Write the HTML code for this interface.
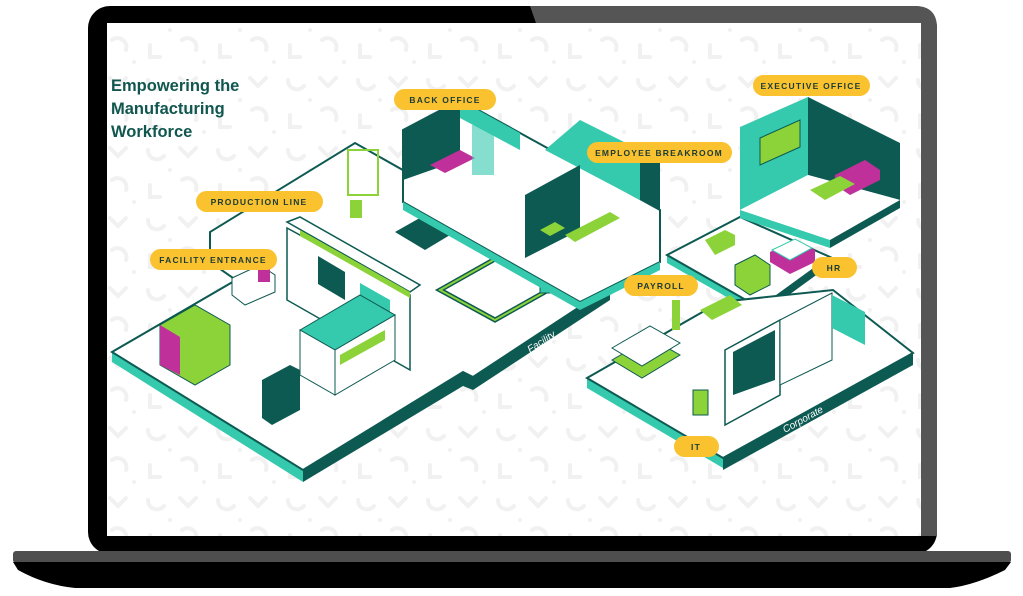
<!DOCTYPE html>
<html><head><meta charset="utf-8"><style>
html,body{margin:0;padding:0;background:#fff;width:1023px;height:596px;overflow:hidden}
svg{display:block}
.p{font-family:"Liberation Sans",sans-serif;font-weight:bold;font-size:8.5px;letter-spacing:1.2px;fill:#1d3b36}
</style></head><body>
<svg width="1023" height="596" viewBox="0 0 1023 596" xmlns="http://www.w3.org/2000/svg">
<defs>
<pattern id="bg" width="70" height="70" patternUnits="userSpaceOnUse">
<g fill="none" stroke="#f1f1f1" stroke-width="4" stroke-linecap="round">
<path d="M8 10 a9 9 0 0 0 16 6"/><path d="M40 8 l8 8 l8 -8"/><path d="M10 45 l0 12 l10 0"/><path d="M42 40 a9 9 0 0 1 14 10"/>
</g><circle cx="30" cy="30" r="2" fill="#f1f1f1"/><circle cx="64" cy="62" r="2" fill="#f1f1f1"/>
</pattern>
</defs>
<!-- laptop -->
<rect x="88" y="6" width="849" height="548" rx="22" fill="#000"/>
<path d="M530 6 L915 6 Q937 6 937 28 L937 536 L921 536 L921 23 L536 23 Z" fill="#555"/>
<rect x="107" y="23" width="814" height="513" fill="#fff"/>
<rect x="107" y="23" width="814" height="513" fill="url(#bg)"/>
<rect x="13" y="551" width="998" height="12" rx="3" fill="#4e4e4e"/>
<path d="M13 562 L1011 562 L1005 570 Q975 585 950 588 L75 588 Q45 585 18 570 Z" fill="#000"/>
<!-- title -->
<g font-family="Liberation Sans,sans-serif" font-weight="bold" font-size="16.5" fill="#11574f">
<text x="111" y="91">Empowering the</text><text x="111" y="114">Manufacturing</text><text x="111" y="137">Workforce</text>
</g>
<!-- facility platform -->
<path d="M303 470 L303 482 L463 386 L473 390 L610 300 L610 287 L473 377 L463 372 Z" fill="#0d5a52"/>
<path d="M112 352 L112 362 L303 482 L303 470 Z" fill="#35c9ad"/>
<path d="M210 232 L210 240 L236 254 L236 246 Z" fill="#35c9ad"/>
<path d="M112 352 L236 280 L210 262 L210 232 L355 143 L610 287 L473 377 L463 372 L303 470 Z" fill="#fff" stroke="#0d5a52" stroke-width="2"/>
<!-- building on facility -->
<path d="M287 228 L287 300 L410 370 L410 295 Z" fill="#fff" stroke="#0d5a52" stroke-width="1.5"/>
<path d="M287 222 L300 217 L420 285 L410 292 Z" fill="#fff" stroke="#0d5a52" stroke-width="1.5"/>
<path d="M300 230 L410 292 L410 298 L300 236 Z" fill="#8cd33a"/>
<path d="M318 256 L345 272 L345 300 L318 284 Z" fill="#0d5a52"/>
<path d="M360 283 L390 300 L390 330 L360 313 Z" fill="#35c9ad"/>
<!-- truck trailer -->
<path d="M300 330 L360 295 L395 315 L335 350 Z" fill="#35c9ad" stroke="#0d5a52"/>
<path d="M300 330 L335 350 L335 395 L300 375 Z" fill="#fff" stroke="#0d5a52"/>
<path d="M335 350 L395 315 L395 360 L335 395 Z" fill="#fff" stroke="#0d5a52"/>
<path d="M340 355 L385 330 L385 340 L340 365 Z" fill="#8cd33a"/>
<path d="M262 380 L290 365 L300 370 L300 410 L272 425 L262 418 Z" fill="#0d5a52"/>
<!-- van -->
<path d="M160 325 L195 305 L230 325 L230 365 L195 385 L160 365 Z" fill="#8cd33a" stroke="#0d5a52"/>
<path d="M160 325 L180 337 L180 375 L160 365 Z" fill="#c0309a"/>
<path d="M232 278 L260 265 L275 275 L275 292 L245 305 L232 295 Z" fill="#fff" stroke="#0d5a52"/>
<rect x="258" y="268" width="12" height="14" fill="#c0309a"/>
<!-- production line -->
<path d="M440 290 L520 245 L575 275 L495 320 Z" fill="none" stroke="#0d5a52" stroke-width="5"/>
<path d="M440 290 L520 245 L575 275 L495 320 Z" fill="none" stroke="#8cd33a" stroke-width="2"/>
<rect x="540" y="268" width="25" height="25" fill="#35c9ad" stroke="#0d5a52"/>
<path d="M395 232 L425 215 L455 232 L425 250 Z" fill="#0d5a52"/>
<rect x="348" y="150" width="30" height="45" fill="none" stroke="#8cd33a" stroke-width="2"/>
<rect x="350" y="200" width="12" height="18" fill="#8cd33a"/>
<!-- back office / breakroom -->
<path d="M403 130 L460 100 L660 210 L660 262 L580 302 L403 202 Z" fill="#fff" stroke="#0d5a52" stroke-width="2"/>
<path d="M403 130 L460 100 L460 160 L403 180 Z" fill="#0d5a52"/>
<path d="M460 100 L520 133 L520 150 L460 118 Z" fill="#35c9ad"/>
<path d="M545 150 L640 200 L640 150 L580 120 Z" fill="#35c9ad"/>
<path d="M525 195 L580 165 L580 230 L525 258 Z" fill="#0d5a52"/>
<path d="M640 150 L660 160 L660 210 L640 200 Z" fill="#0d5a52"/>
<path d="M430 165 L460 150 L475 158 L445 173 Z" fill="#c0309a"/>
<rect x="472" y="125" width="22" height="50" fill="#35c9ad" opacity=".6"/>
<path d="M565 235 L610 212 L620 218 L575 242 Z" fill="#8cd33a"/>
<path d="M540 230 L555 222 L565 228 L550 236 Z" fill="#8cd33a"/>
<path d="M403 202 L580 302 L660 262 L660 270 L580 310 L403 210 Z" fill="#35c9ad"/>
<!-- HR platform -->
<path d="M667 255 L667 263 L760 316 L760 308 Z" fill="#35c9ad"/>
<path d="M760 308 L760 316 L830 265 L830 257 Z" fill="#0d5a52"/>
<path d="M667 255 L740 217 L830 257 L760 308 Z" fill="#fff" stroke="#0d5a52" stroke-width="2"/>
<path d="M770 252 L795 240 L815 250 L815 262 L790 274 L770 262 Z" fill="#c0309a"/>
<path d="M772 250 L795 239 L812 248 L790 260 Z" fill="#fff" stroke="#35c9ad"/>
<path d="M735 265 L755 255 L770 265 L770 285 L750 295 L735 285 Z" fill="#8cd33a" stroke="#0d5a52"/>
<path d="M705 240 L725 230 L735 235 L735 245 L715 255 Z" fill="#8cd33a"/>
<!-- Executive office -->
<path d="M740 127 L808 97 L808 175 L740 210 Z" fill="#35c9ad"/>
<path d="M808 97 L900 143 L900 200 L808 175 Z" fill="#0d5a52"/>
<path d="M740 210 L808 175 L900 200 L830 240 Z" fill="#fff"/>
<path d="M740 210 L830 240 L830 248 L740 218 Z" fill="#35c9ad"/>
<path d="M830 240 L900 200 L900 208 L830 248 Z" fill="#0d5a52"/>
<path d="M760 138 L800 120 L800 147 L760 165 Z" fill="#8cd33a" stroke="#0d5a52"/>
<path d="M835 175 L865 160 L880 170 L880 180 L850 195 L835 185 Z" fill="#c0309a"/>
<path d="M810 190 L840 176 L855 184 L825 200 Z" fill="#8cd33a"/>
<!-- corporate -->
<path d="M587 378 L587 388 L723 468 L723 458 Z" fill="#35c9ad"/>
<path d="M723 458 L723 470 L913 365 L913 353 Z" fill="#0d5a52"/>
<path d="M587 378 L720 302 L833 290 L913 353 L723 458 Z" fill="#fff" stroke="#0d5a52" stroke-width="2"/>
<path d="M725 350 L780 320 L780 395 L725 425 Z" fill="#fff" stroke="#0d5a52" stroke-width="1.5"/>
<path d="M733 352 L775 330 L775 380 L733 395 Z" fill="#0d5a52"/>
<path d="M780 320 L832 293 L832 360 L780 385 Z" fill="#fff" stroke="#0d5a52"/>
<path d="M832 295 L865 312 L865 345 L832 328 Z" fill="#35c9ad"/>
<path d="M612 360 L650 338 L680 355 L642 378 Z" fill="#8cd33a" stroke="#0d5a52"/>
<path d="M612 348 L650 326 L680 343 L642 366 Z" fill="#fff" stroke="#0d5a52"/>
<rect x="693" y="390" width="15" height="25" fill="#8cd33a" stroke="#0d5a52"/>
<rect x="672" y="300" width="8" height="30" fill="#8cd33a"/>
<path d="M700 310 L730 295 L742 305 L712 320 Z" fill="#8cd33a"/>
<!-- platform labels -->
<text x="0" y="0" transform="translate(530,353) rotate(-33)" font-family="Liberation Sans,sans-serif" font-style="italic" font-size="10" fill="#fff">Facility</text>
<text x="0" y="0" transform="translate(785,433) rotate(-29)" font-family="Liberation Sans,sans-serif" font-style="italic" font-size="10" fill="#fff">Corporate</text>
<!-- pills -->
<g fill="#f9c22e">
<rect x="394" y="89" width="102" height="21" rx="10.5"/>
<rect x="587" y="142" width="145" height="21" rx="10.5"/>
<rect x="753" y="75" width="117" height="21" rx="10.5"/>
<rect x="196" y="191" width="127" height="21" rx="10.5"/>
<rect x="150" y="249" width="127" height="21" rx="10.5"/>
<rect x="624" y="275" width="74" height="21" rx="10.5"/>
<rect x="812" y="257" width="45" height="21" rx="10.5"/>
<rect x="674" y="436" width="45" height="21" rx="10.5"/>
</g>
<g text-anchor="middle">
<text class="p" x="445" y="103">BACK OFFICE</text>
<text class="p" x="659" y="156">EMPLOYEE BREAKROOM</text>
<text class="p" x="811" y="89">EXECUTIVE OFFICE</text>
<text class="p" x="259" y="205">PRODUCTION LINE</text>
<text class="p" x="213" y="263">FACILITY ENTRANCE</text>
<text class="p" x="661" y="289">PAYROLL</text>
<text class="p" x="834" y="271">HR</text>
<text class="p" x="696" y="450">IT</text>
</g>
</svg>
</body></html>
